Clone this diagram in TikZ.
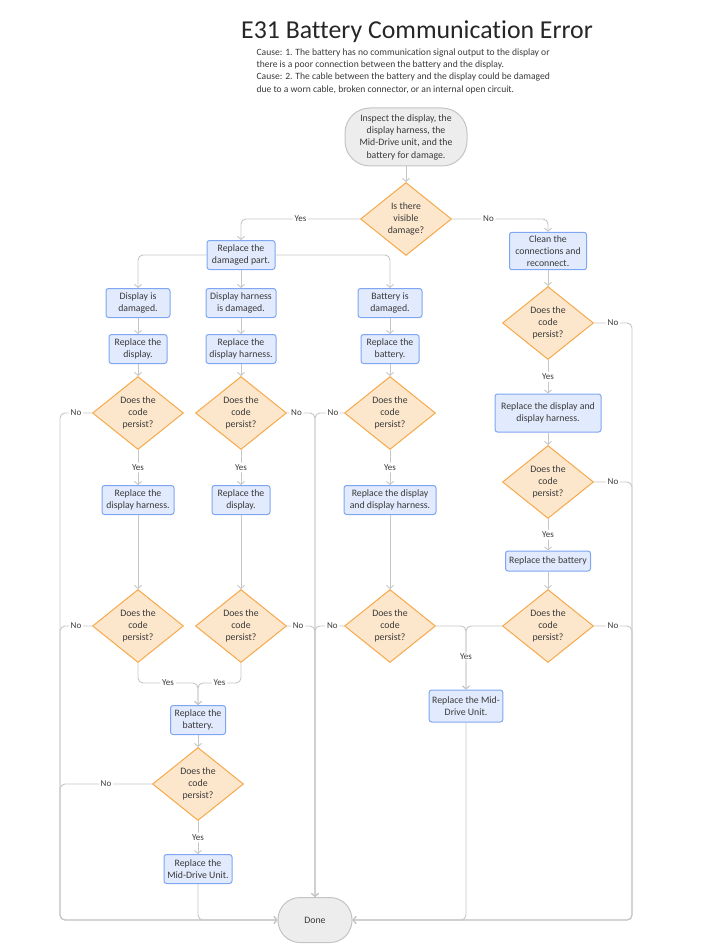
\documentclass[tikz,border=0pt]{standalone}
\usepackage{fontspec}
\setmainfont{Carlito}[RawFeature={-liga}]
\usetikzlibrary{shapes.geometric,arrows.meta}

\definecolor{ink}{HTML}{3A3A3A}
\definecolor{actline}{HTML}{7EA6F2}
\definecolor{actfill}{HTML}{E2EAFD}
\definecolor{askline}{HTML}{F6A94A}
\definecolor{askfill}{HTML}{FDE7CC}
\definecolor{termline}{HTML}{C4C4C4}
\definecolor{termfill}{HTML}{EDEDED}
\definecolor{wiregray}{HTML}{C6C6C6}

\begin{document}
\begin{tikzpicture}[x=1pt,y=-1pt,text=ink,
  font=\fontsize{9.8}{12.3}\selectfont,
  act/.style={draw=actline,fill=actfill,line width=1pt,rounded corners=2.5pt,
    align=center,inner xsep=3pt,inner ysep=3pt,minimum width=58pt,minimum height=29pt},
  ask/.style={diamond,draw=askline,fill=askfill,line width=1pt,align=center,
    minimum width=91pt,minimum height=73pt,inner sep=0pt},
  term/.style={draw=termline,fill=termfill,line width=1pt,align=center},
  link/.style={draw=wiregray,line width=0.9pt,rounded corners=5pt},
  flow/.style={link,-{Straight Barb[length=3pt,width=7pt]}},
  lbl/.style={fill=white,inner sep=2pt,font=\fontsize{9}{10}\selectfont}]

\useasboundingbox (0,0) rectangle (703,952);

% heading
\node[font=\fontsize{25.8}{28}\selectfont,text=black!85] (title) at (417,32) {E31 Battery Communication Error};
\node[anchor=north west,align=left,font=\fontsize{9.6}{12.3}\selectfont] (cause) at (253,45)
  {Cause: 1. The battery has no communication signal output to the display or\\
   there is a poor connection between the battery and the display.\\
   Cause: 2. The cable between the battery and the display could be damaged\\
   due to a worn cable, broken connector, or an internal open circuit.};

% start
\node[term,rounded corners=25pt,minimum width=122pt,minimum height=58pt] (start) at (406,137)
  {Inspect the display, the\\display harness, the\\Mid-Drive unit, and the\\battery for damage.};
\node[ask] (dmg) at (406,219) {Is there\\visible\\damage?};

% left part
\node[act,minimum width=68pt] (fix) at (241,255) {Replace the\\damaged part.};
\node[act,minimum width=64pt] (disp) at (138,303) {Display is\\damaged.};
\node[act,minimum width=70pt] (harn) at (241,303) {Display harness\\is damaged.};
\node[act,minimum width=64pt] (batt) at (390,303) {Battery is\\damaged.};
\node[act] (rdsp) at (138,349) {Replace the\\display.};
\node[act,minimum width=70pt] (rhar) at (241,349) {Replace the\\display harness.};
\node[act] (rbat) at (390,349) {Replace the\\battery.};
\node[ask] (d1) at (138,413) {Does the\\code\\persist?};
\node[ask] (d2) at (241,413) {Does the\\code\\persist?};
\node[ask] (d3) at (390,413) {Does the\\code\\persist?};
\node[act,minimum width=72pt] (rdh1) at (138,500) {Replace the\\display harness.};
\node[act] (rds2) at (241,500) {Replace the\\display.};
\node[act,minimum width=92pt] (rboth) at (390,500) {Replace the display\\and display harness.};
\node[ask] (d4) at (138,626) {Does the\\code\\persist?};
\node[ask] (d5) at (241,626) {Does the\\code\\persist?};
\node[ask] (d6) at (390,626) {Does the\\code\\persist?};
\node[act,minimum width=55pt] (rbat3) at (198,720) {Replace the\\battery.};
\node[ask] (d7) at (198,784) {Does the\\code\\persist?};
\node[act,minimum width=68pt] (mdu1) at (198,869) {Replace the\\Mid-Drive Unit.};

% right part
\node[act,minimum width=77pt] (clean) at (548,251) {Clean the\\connections and\\reconnect.};
\node[ask] (r1) at (548,323) {Does the\\code\\persist?};
\node[act,minimum width=106pt,minimum height=38pt] (rboth2) at (548,413) {Replace the display and\\display harness.};
\node[ask] (r2) at (548,482) {Does the\\code\\persist?};
\node[act,minimum width=85pt,minimum height=20pt] (rbat2) at (548,561) {Replace the battery};
\node[ask] (r3) at (548,626) {Does the\\code\\persist?};
\node[act,minimum width=71pt,minimum height=32pt] (mdu2) at (466,706) {Replace the Mid-\\Drive Unit.};

% end
\node[term,rounded corners=22pt,minimum width=74pt,minimum height=45pt] (done) at (315,920) {Done};

\coordinate (lrail) at (60,0);
\coordinate (rrail) at (632,0);
\coordinate (join) at (198,683);

% connectors
\draw[flow] (start) -- (dmg);
\draw[flow] (dmg.west) -| node[lbl,pos=0.25]{Yes} (fix.north);
\draw[flow] (dmg.east) -| node[lbl,pos=0.19]{No} (clean.north);
\draw[flow] (fix.west) -| (disp.north);
\draw[flow] (fix) -- (harn);
\draw[flow] (fix.east) -| (batt.north);
\draw[flow] (disp) -- (rdsp);
\draw[flow] (harn) -- (rhar);
\draw[flow] (batt) -- (rbat);
\draw[flow] (rdsp) -- (d1);
\draw[flow] (rhar) -- (d2);
\draw[flow] (rbat) -- (d3);
\draw[flow] (d1) -- node[lbl]{Yes} (rdh1);
\draw[flow] (d2) -- node[lbl]{Yes} (rds2);
\draw[flow] (d3) -- node[lbl]{Yes} (rboth);
\draw[flow] (rdh1) -- (d4);
\draw[flow] (rds2) -- (d5);
\draw[flow] (rboth) -- (d6);
\draw[flow] (d4.south) |- node[lbl,pos=0.75]{Yes} (join) -- (rbat3.north);
\draw[flow] (d5.south) |- node[lbl,pos=0.75]{Yes} (join) -- (rbat3.north);
\draw[flow] (rbat3) -- (d7);
\draw[flow] (d7) -- node[lbl]{Yes} (mdu1);
\draw[flow] (mdu1.south) |- (done.west);

\draw[flow] (clean) -- (r1);
\draw[flow] (r1) -- node[lbl]{Yes} (rboth2);
\draw[flow] (rboth2) -- (r2);
\draw[flow] (r2) -- node[lbl]{Yes} (rbat2);
\draw[flow] (rbat2) -- (r3);
\draw[flow] (d6.east) -| node[lbl,pos=0.74]{Yes} (mdu2.north);
\draw[flow] (r3.west) -| (mdu2.north);
\draw[flow] (mdu2.south) |- (done.east);

% No branches
\draw[flow] (d1.west) -- node[lbl]{No} (d1.west -| lrail) |- (done.west);
\draw[flow] (d4.west) -- node[lbl]{No} (d4.west -| lrail) |- (done.west);
\draw[flow] (d7.west) -- node[lbl]{No} (d7.west -| lrail) |- (done.west);
\draw[flow] (d2.east) -| node[lbl,pos=0.17]{No} (done.north);
\draw[flow] (d3.west) -| node[lbl,pos=0.19]{No} (done.north);
\draw[flow] (d5.east) -| node[lbl,pos=0.2]{No} (done.north);
\draw[flow] (d6.west) -| node[lbl,pos=0.2]{No} (done.north);
\draw[flow] (r1.east) -- node[lbl]{No} (r1.east -| rrail) |- (done.east);
\draw[flow] (r2.east) -- node[lbl]{No} (r2.east -| rrail) |- (done.east);
\draw[flow] (r3.east) -- node[lbl]{No} (r3.east -| rrail) |- (done.east);
\end{tikzpicture}
\end{document}
